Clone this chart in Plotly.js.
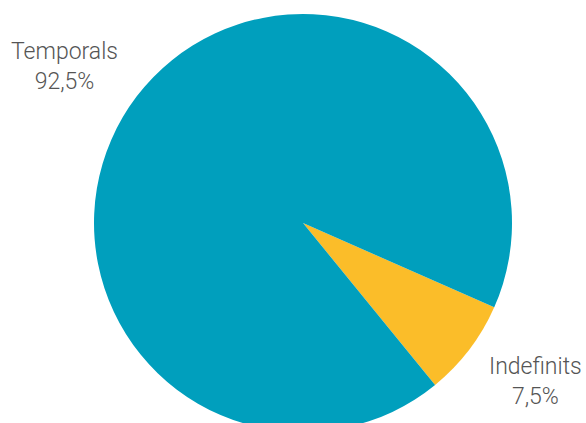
<!DOCTYPE html>
<html>
<head>
<meta charset="utf-8">
<script src="https://cdn.plot.ly/plotly-3.0.1.min.js"></script>
<style>
html,body{margin:0;padding:0;overflow:hidden;background:#fff;}
#chart{width:586px;height:440px;}
</style>
</head>
<body>
<div id="chart"></div>
<script>
var categories = ["Indefinits", "Temporals"];
var values = [7.5, 92.5];
var colors = ["#FBBD29", "#009FBD"];

function fmt(v){ return v.toFixed(1).replace(".", ",") + "%"; }

var trace = {
  type: "pie",
  labels: categories,
  values: values,
  sort: false,
  direction: "clockwise",
  rotation: 113.8,
  marker: {colors: colors, line: {width: 0}},
  textinfo: "none",
  hoverinfo: "label+percent",
  showlegend: false,
  domain: {x: [0, 1], y: [0, 1]}
};

var labelFont = {family: "Roboto, 'Open Sans', sans-serif", size: 23, color: "#555555", weight: 300};
var labelPos = {
  "Temporals": {x: 64, y: 66},
  "Indefinits": {x: 535, y: 381}
};

var annotations = categories.map(function(c, i){
  return {
    xref: "paper", yref: "paper",
    x: (labelPos[c].x - 20) / 566,
    y: 1 - (labelPos[c].y - 14) / 418,
    xanchor: "center", yanchor: "middle",
    text: c + "<br>" + fmt(values[i]),
    showarrow: false,
    font: labelFont,
    align: "center"
  };
});

var layout = {
  width: 586, height: 440,
  margin: {l: 20, r: 0, t: 14, b: 8},
  paper_bgcolor: "#ffffff",
  annotations: annotations
};

Plotly.newPlot("chart", [trace], layout, {displayModeBar: false, staticPlot: true});
</script>
</body>
</html>
